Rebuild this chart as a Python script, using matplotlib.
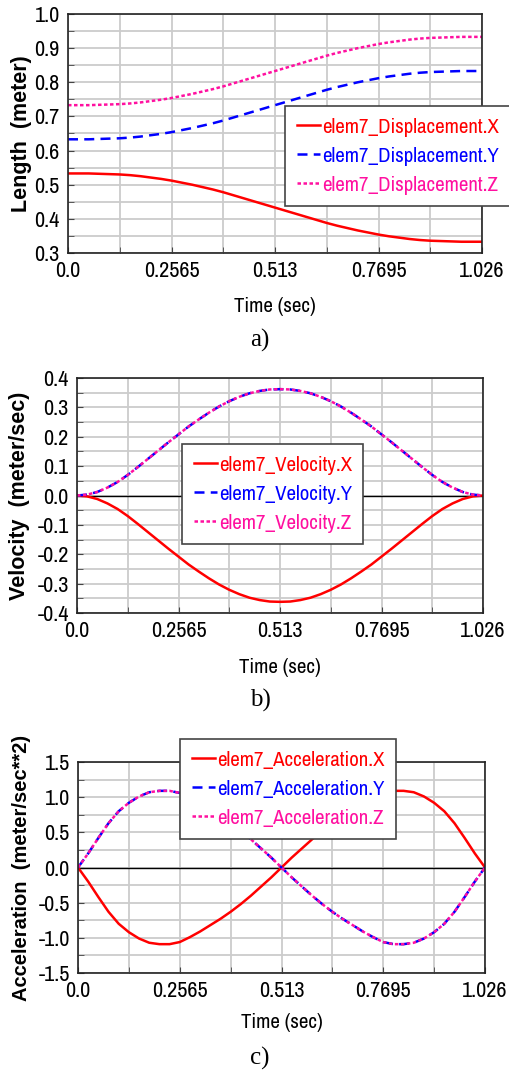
import matplotlib
matplotlib.use("Agg")
import matplotlib.pyplot as plt
from matplotlib.ticker import MultipleLocator, FixedLocator

# time samples (sec)
time = [0.0, 0.02565, 0.0513, 0.07695, 0.1026, 0.12825, 0.1539, 0.17955, 0.2052, 0.23085,
        0.2565, 0.28215, 0.3078, 0.33345, 0.3591, 0.38475, 0.4104, 0.43605, 0.4617, 0.48735,
        0.513, 0.53865, 0.5643, 0.58995, 0.6156, 0.64125, 0.6669, 0.69255, 0.7182, 0.74385,
        0.7695, 0.79515, 0.8208, 0.84645, 0.8721, 0.89775, 0.9234, 0.94905, 0.9747, 1.00035,
        1.026]

# displacement (meter)
disp_x = [0.533, 0.533, 0.533, 0.532, 0.531, 0.530, 0.528, 0.525, 0.521, 0.517,
          0.512, 0.506, 0.500, 0.493, 0.486, 0.478, 0.469, 0.460, 0.451, 0.442,
          0.433, 0.424, 0.415, 0.406, 0.397, 0.388, 0.380, 0.373, 0.366, 0.360,
          0.354, 0.349, 0.345, 0.341, 0.338, 0.336, 0.335, 0.334, 0.333, 0.333,
          0.333]
disp_y = [0.633, 0.633, 0.633, 0.634, 0.635, 0.636, 0.638, 0.641, 0.645, 0.649,
          0.654, 0.660, 0.666, 0.673, 0.680, 0.688, 0.697, 0.706, 0.715, 0.724,
          0.733, 0.742, 0.751, 0.760, 0.769, 0.778, 0.786, 0.793, 0.800, 0.806,
          0.812, 0.817, 0.821, 0.825, 0.828, 0.830, 0.831, 0.832, 0.833, 0.833,
          0.833]
disp_z = [0.733, 0.733, 0.733, 0.734, 0.735, 0.736, 0.738, 0.741, 0.745, 0.749,
          0.754, 0.760, 0.766, 0.773, 0.780, 0.788, 0.797, 0.806, 0.815, 0.824,
          0.833, 0.842, 0.851, 0.860, 0.869, 0.878, 0.886, 0.893, 0.900, 0.906,
          0.912, 0.917, 0.921, 0.925, 0.928, 0.930, 0.931, 0.932, 0.933, 0.933,
          0.933]

# velocity (meter/sec)
vel_x = [0.0, -0.003, -0.012, -0.027, -0.046, -0.070, -0.097, -0.125, -0.153, -0.181,
         -0.208, -0.235, -0.259, -0.282, -0.303, -0.321, -0.336, -0.348, -0.356, -0.361,
         -0.362, -0.361, -0.356, -0.348, -0.336, -0.321, -0.303, -0.282, -0.259, -0.235,
         -0.208, -0.181, -0.153, -0.125, -0.097, -0.070, -0.046, -0.027, -0.012, -0.003,
         0.0]
vel_y = [0.0, 0.003, 0.012, 0.027, 0.046, 0.070, 0.097, 0.125, 0.153, 0.181,
         0.208, 0.235, 0.259, 0.282, 0.303, 0.321, 0.336, 0.348, 0.356, 0.361,
         0.362, 0.361, 0.356, 0.348, 0.336, 0.321, 0.303, 0.282, 0.259, 0.235,
         0.208, 0.181, 0.153, 0.125, 0.097, 0.070, 0.046, 0.027, 0.012, 0.003,
         0.0]
vel_z = [0.0, 0.003, 0.012, 0.027, 0.046, 0.070, 0.097, 0.125, 0.153, 0.181,
         0.208, 0.235, 0.259, 0.282, 0.303, 0.321, 0.336, 0.348, 0.356, 0.361,
         0.362, 0.361, 0.356, 0.348, 0.336, 0.321, 0.303, 0.282, 0.259, 0.235,
         0.208, 0.181, 0.153, 0.125, 0.097, 0.070, 0.046, 0.027, 0.012, 0.003,
         0.0]

# acceleration (meter/sec**2)
acc_x = [0.0, -0.20, -0.42, -0.63, -0.80, -0.92, -1.01, -1.07, -1.09, -1.09,
         -1.06, -0.99, -0.91, -0.82, -0.73, -0.63, -0.52, -0.40, -0.27, -0.14,
         0.0, 0.14, 0.27, 0.40, 0.52, 0.63, 0.73, 0.82, 0.91, 0.99,
         1.06, 1.09, 1.09, 1.07, 1.01, 0.92, 0.80, 0.63, 0.42, 0.20,
         0.0]
acc_y = [0.0, 0.20, 0.42, 0.63, 0.80, 0.92, 1.01, 1.07, 1.09, 1.09,
         1.06, 0.99, 0.91, 0.82, 0.73, 0.63, 0.52, 0.40, 0.27, 0.14,
         0.0, -0.14, -0.27, -0.40, -0.52, -0.63, -0.73, -0.82, -0.91, -0.99,
         -1.06, -1.09, -1.09, -1.07, -1.01, -0.92, -0.80, -0.63, -0.42, -0.20,
         0.0]
acc_z = [0.0, 0.20, 0.42, 0.63, 0.80, 0.92, 1.01, 1.07, 1.09, 1.09,
         1.06, 0.99, 0.91, 0.82, 0.73, 0.63, 0.52, 0.40, 0.27, 0.14,
         0.0, -0.14, -0.27, -0.40, -0.52, -0.63, -0.73, -0.82, -0.91, -0.99,
         -1.06, -1.09, -1.09, -1.07, -1.01, -0.92, -0.80, -0.63, -0.42, -0.20,
         0.0]

time_ticks = [0.0, 0.2565, 0.513, 0.7695, 1.026]
time_labels = ["0.0", "0.2565", "0.513", "0.7695", "1.026"]

narrow = ["Archivo Narrow", "DejaVu Sans"]
RED = "#ff0000"
BLUE = "#0000ff"
PINK = "#ff10a0"

W, H = 509, 1073
fig = plt.figure(figsize=(W / 100, H / 100), dpi=100)


def px_axes(left, top, right, bottom):
    return fig.add_axes([left / W, 1 - bottom / H, (right - left) / W, (bottom - top) / H])


def setup(ax, ylim, ymajor, yminor, ylabel, yfs):
    ax.set_xlim(0, 1.026)
    ax.set_ylim(*ylim)
    ax.xaxis.set_major_locator(FixedLocator(time_ticks))
    ax.set_xticklabels(time_labels)
    ax.xaxis.set_minor_locator(MultipleLocator(0.12825))
    ax.yaxis.set_major_locator(MultipleLocator(ymajor))
    ax.yaxis.set_minor_locator(MultipleLocator(yminor))
    ax.yaxis.set_major_formatter(plt.FormatStrFormatter("%.1f"))
    ax.grid(True, which="both", color="#cccccc", lw=1.3)
    ax.set_axisbelow(True)
    ax.tick_params(which="both", direction="in", length=4, color="#444444")
    ax.tick_params(which="major", pad=6)
    for lab in ax.get_xticklabels() + ax.get_yticklabels():
        lab.set_family(narrow)
        lab.set_fontsize(16)
    for s in ax.spines.values():
        s.set_color("#222222")
        s.set_linewidth(1.2)
    ax.set_ylabel(ylabel, fontsize=yfs, fontweight="bold", family="Liberation Sans")
    ax.set_xlabel("Time (sec)", fontsize=15, family=narrow)


def draw_lines(ax, xs, ys, zs):
    lx, = ax.plot(time, xs, color=RED, lw=1.8)
    ly, = ax.plot(time, ys, color=BLUE, lw=1.8, ls=(0, (4, 2.5)))
    lz, = ax.plot(time, zs, color=PINK, lw=1.8, ls=(0, (1.4, 1)))
    return [lx, ly, lz]


def legend(ax, handles, names, x0, y0):
    lg = ax.legend(handles, names, loc="upper left", bbox_to_anchor=(x0 / W, 1 - y0 / H),
                   bbox_transform=fig.transFigure, prop={"family": narrow, "size": 15},
                   fancybox=False, framealpha=1, edgecolor="#444444", shadow=False,
                   handlelength=1.1, handletextpad=0.1, labelspacing=0.48,
                   borderpad=0.56, borderaxespad=0)
    lg.get_frame().set_linewidth(1.2)
    for txt, c in zip(lg.get_texts(), [RED, BLUE, PINK]):
        txt.set_color(c)
    lg.set_zorder(5)
    return lg


# a) displacement
ax1 = px_axes(68, 14, 482, 253)
h1 = draw_lines(ax1, disp_x, disp_y, disp_z)
setup(ax1, (0.3, 1.0), 0.1, 0.05, "Length  (meter)", 15.5)
ax1.yaxis.set_label_coords(-0.086, 0.5)
ax1.xaxis.set_label_coords(0.5, -0.185)
legend(ax1, h1, ["elem7_Displacement.X", "elem7_Displacement.Y", "elem7_Displacement.Z"], 285, 106)
fig.text(260 / W, 1 - 340 / H, "a)", ha="center", va="center", fontsize=18, family="Liberation Serif")

# b) velocity
ax2 = px_axes(77, 378, 483, 613)
ax2.axhline(0, color="black", lw=1)
h2 = draw_lines(ax2, vel_x, vel_y, vel_z)
setup(ax2, (-0.4, 0.4), 0.1, 0.05, "Velocity  (meter/sec)", 15.5)
ax2.yaxis.set_label_coords(-0.115, 0.5)
ax2.xaxis.set_label_coords(0.5, -0.19)
legend(ax2, h2, ["elem7_Velocity.X", "elem7_Velocity.Y", "elem7_Velocity.Z"], 182, 444)
fig.text(260 / W, 1 - 700 / H, "b)", ha="center", va="center", fontsize=18, family="Liberation Serif")

# c) acceleration
ax3 = px_axes(78, 762, 485, 973)
ax3.axhline(0, color="black", lw=1)
h3 = draw_lines(ax3, acc_x, acc_y, acc_z)
setup(ax3, (-1.5, 1.5), 0.5, 0.25, "Acceleration  (meter/sec**2)", 14.5)
ax3.yaxis.set_label_coords(-0.115, 0.5)
ax3.xaxis.set_label_coords(0.5, -0.19)
legend(ax3, h3, ["elem7_Acceleration.X", "elem7_Acceleration.Y", "elem7_Acceleration.Z"], 180, 739)
fig.text(260 / W, 1 - 1058 / H, "c)", ha="center", va="center", fontsize=18, family="Liberation Serif")

fig.savefig("out.png", dpi=100)
